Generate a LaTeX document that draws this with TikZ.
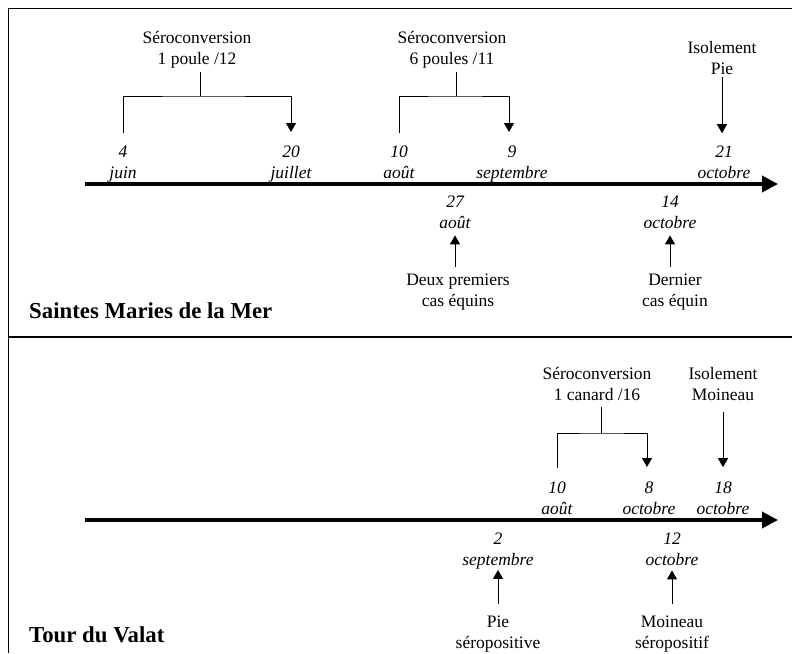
\documentclass[tikz,border=0pt]{standalone}
\usepackage{fontspec}
\setmainfont{Liberation Serif}
\usetikzlibrary{arrows.meta}
\begin{document}
\begin{tikzpicture}[x=1pt,y=-1pt,
  lbl/.style={font=\fontsize{17.5}{21}\selectfont, align=center, inner sep=0pt, anchor=base},
  dte/.style={font=\fontsize{17.5}{21}\selectfont\itshape, align=center, inner sep=0pt, anchor=base},
  site/.style={font=\fontsize{22.8}{27}\selectfont\bfseries, inner sep=0pt, anchor=base west},
  conn/.style={line width=1pt},
  arr/.style={line width=1pt, -{Triangle[width=10pt,length=9pt]}},
  axis/.style={line width=3.5pt, -{Triangle[width=16pt,length=16pt]}},
  frame/.style={line width=1.3pt}]
\useasboundingbox (0,0) rectangle (792,653);
% frame
\coordinate (fTL) at (8.3,8.3);
\coordinate (fTR) at (792,8.3);
\coordinate (fBL) at (8.3,653);
\coordinate (dL) at (8.3,337);
\coordinate (dR) at (792,337);
\draw[frame] (fTR) -- (fTL) -- (fBL);
\draw[frame] (dL) -- (dR);

% ---------- top panel ----------
\coordinate (ax1s) at (85,184);
\coordinate (ax1e) at (778,184);
\draw[axis] (ax1s) -- (ax1e);

% node y = baseline of the last line
\node[lbl] (s1) at (197,64) {Séroconversion\\1 poule /12};
\node[lbl] (s2) at (452,64) {Séroconversion\\6 poules /11};
\node[lbl] (iso1) at (722,74) {Isolement\\Pie};

\node[dte] (d4) at (123,178) {4\\juin};
\node[dte] (d20) at (291,178) {20\\juillet};
\node[dte] (d10a) at (399,178) {10\\août};
\node[dte] (d9) at (512,178) {9\\septembre};
\node[dte] (d21) at (724,178) {21\\octobre};

\node[dte] (d27) at (455,228) {27\\août};
\node[dte] (d14) at (670,228) {14\\octobre};
\node[lbl] (e1) at (458,306) {Deux premiers\\cas équins};
\node[lbl] (e2) at (675,306) {Dernier\\cas équin};

\node[site] (smm) at (29,318) {Saintes Maries de la Mer};

\coordinate (b1) at (200,96);
\coordinate (r1) at (291,132);
\draw[conn, shorten <=4pt] (s1.south -| b1) -- (b1);
\draw[arr, shorten <=12pt] (d4.north) |- (b1) -| (r1);

\coordinate (b2) at (456,96);
\coordinate (r2) at (509,132);
\draw[conn, shorten <=4pt] (s2.south -| b2) -- (b2);
\draw[arr, shorten <=12pt] (d10a.north) |- (b2) -| (r2);

\draw[arr, shorten <=3pt, shorten >=12pt] (iso1.south) -- (iso1.south |- d21.north);

\draw[arr, shorten <=6pt, shorten >=7pt] (e1.north -| d27.south) -- (d27.south);
\draw[arr, shorten <=6pt, shorten >=7pt] (e2.north -| d14.south) -- (d14.south);

% ---------- bottom panel ----------
\coordinate (ax2s) at (85,520);
\coordinate (ax2e) at (778,520);
\draw[axis] (ax2s) -- (ax2e);

\node[lbl] (s3) at (597,400) {Séroconversion\\1 canard /16};
\node[lbl] (iso2) at (723,400) {Isolement\\Moineau};

\node[dte] (d10b) at (557,514) {10\\août};
\node[dte] (d8) at (649,514) {8\\octobre};
\node[dte] (d18) at (723,514) {18\\octobre};

\node[dte] (d2) at (498,565) {2\\septembre};
\node[dte] (d12) at (672,565) {12\\octobre};
\node[lbl] (p1) at (498,648) {Pie\\séropositive};
\node[lbl] (m1) at (672,648) {Moineau\\séropositif};

\node[site] (tdv) at (29,642) {Tour du Valat};

\coordinate (b3) at (601,433);
\coordinate (r3) at (647,467);
\draw[conn, shorten <=7pt] (s3.south -| b3) -- (b3);
\draw[arr, shorten <=13pt] (d10b.north) |- (b3) -| (r3);

\draw[arr, shorten <=12pt, shorten >=14pt] (iso2.south) -- (iso2.south |- d18.north);

\draw[arr, shorten <=11pt, shorten >=1pt] (p1.north) -- (d2.south);
\draw[arr, shorten <=11pt, shorten >=5pt] (m1.north -| d12.south) -- (d12.south);
\end{tikzpicture}
\end{document}
